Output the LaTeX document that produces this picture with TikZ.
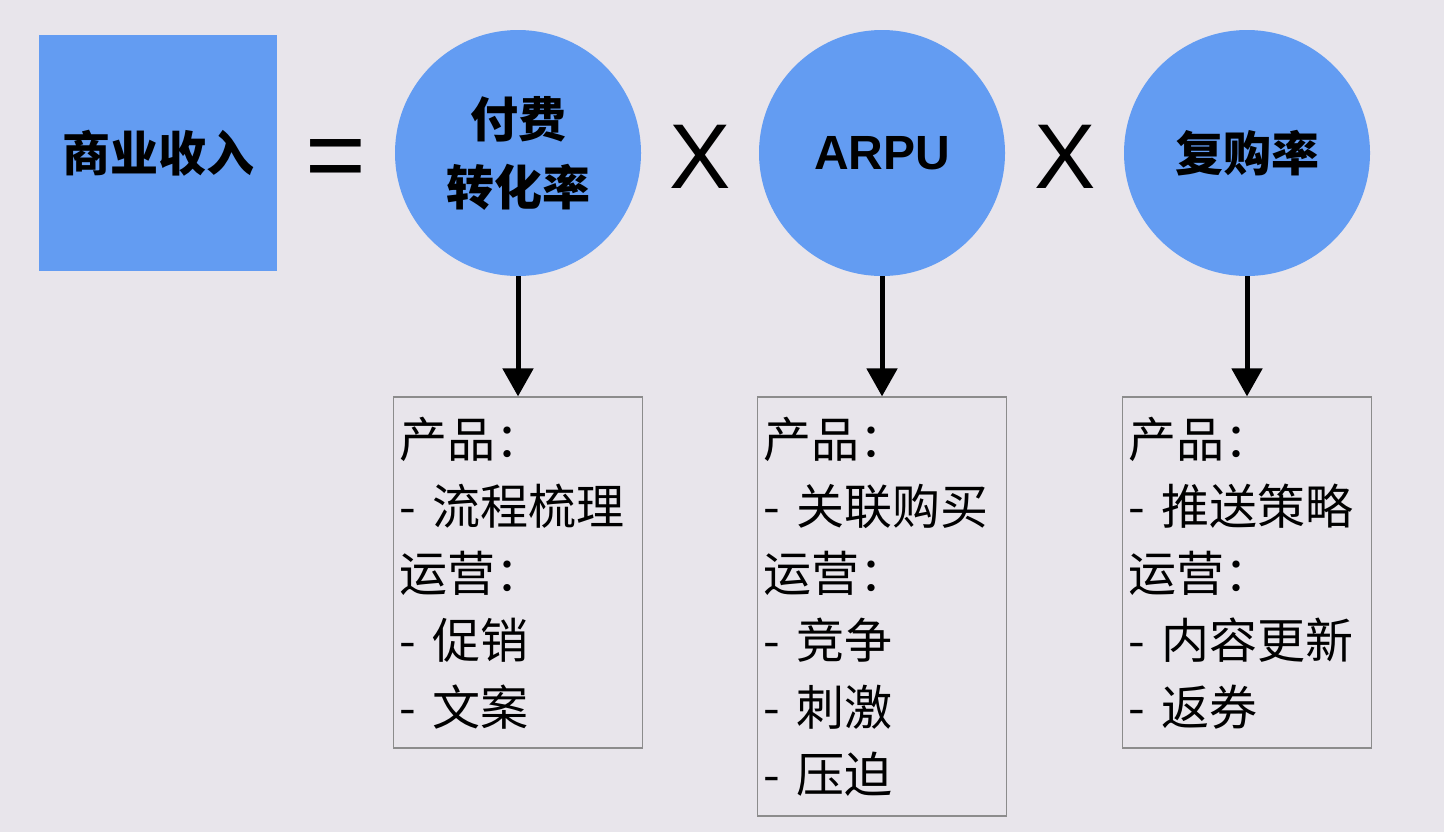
\documentclass[tikz,border=0pt]{standalone}
\usepackage{fontspec}
\setmainfont{Liberation Sans}
\newfontfamily\cjk{Noto Sans CJK SC}
\usetikzlibrary{positioning,arrows.meta}
\definecolor{canvas}{HTML}{E8E5EB}
\definecolor{cblue}{HTML}{639CF2}
\definecolor{boxline}{HTML}{8C8C8C}

\begin{document}
\begin{tikzpicture}[x=0.5pt,y=-0.5pt,node distance=60pt]
    % `total' is the blue square on the left.
    % `factor' is used for the three blue circles.
    % `notes' is the framed box below each factor.
    \tikzstyle{total} = [fill=cblue,minimum width=119pt,minimum height=118pt,inner sep=0pt,font=\cjk\bfseries\fontsize{24}{28}\selectfont]
    \tikzstyle{factor} = [fill=cblue,shape=circle,minimum size=123pt,inner sep=0pt,align=center,font=\cjk\bfseries\fontsize{24}{34}\selectfont]
    \tikzstyle{sign} = [inner sep=0pt,font=\fontsize{46}{46}\selectfont]
    \tikzstyle{notes} = [draw=boxline,line width=0.8pt,anchor=north,text width=118.5pt,inner sep=3pt,align=left,font=\cjk\fontsize{24}{33.5}\selectfont]
    \tikzstyle{link} = [line width=2.5pt,-{Triangle[width=15pt,length=14pt]}]
    %
    \fill[canvas] (0,0) rectangle (1444,832);
    % Top row: income = rate X ARPU X repurchase.
    \node[total] (income) at (158,153) {商业收入};
    \node[sign,font=\fontsize{52}{52}\selectfont] (eq) at (336,165) {=};
    \node[factor] (rate) at (518,153) {付费\\转化率};
    \node[sign] (times1) at (700,157) {X};
    \node[factor,font=\bfseries\fontsize{24}{34}\selectfont] (arpu) at (882,153) {ARPU};
    \node[sign] (times2) at (1065,157) {X};
    \node[factor] (repeat) at (1247,153) {复购率};
    % Boxes below.
    \node[notes,minimum height=175.5pt,below=of rate] (rateNotes) {产品：\\- 流程梳理\\运营：\\- 促销\\- 文案};
    \node[notes,minimum height=209.5pt,below=of arpu] (arpuNotes) {产品：\\- 关联购买\\运营：\\- 竞争\\- 刺激\\- 压迫};
    \node[notes,minimum height=175.5pt,below=of repeat] (repeatNotes) {产品：\\- 推送策略\\运营：\\- 内容更新\\- 返券};
    % Arrows.
    \draw[link] (rate) -- (rateNotes);
    \draw[link] (arpu) -- (arpuNotes);
    \draw[link] (repeat) -- (repeatNotes);
\end{tikzpicture}
\end{document}
